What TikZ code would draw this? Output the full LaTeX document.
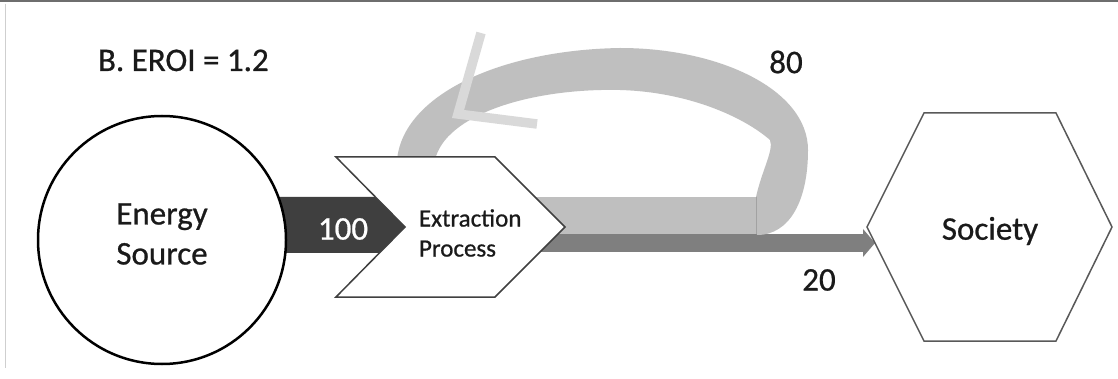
\documentclass[tikz,border=0pt]{standalone}
\usepackage{fontspec}
\setmainfont{Carlito}[FakeBold=0.7]
\definecolor{darkflow}{HTML}{3F3F3F}
\definecolor{bandlight}{HTML}{BFBFBF}
\definecolor{bandmid}{HTML}{7F7F7F}
\definecolor{tipgray}{HTML}{D9D9D9}
\definecolor{txt}{HTML}{1A1A1A}
\definecolor{chevline}{HTML}{404040}
\definecolor{hexline}{HTML}{595959}
\definecolor{framedark}{HTML}{6E6E6E}
\definecolor{framelight}{HTML}{CFCFCF}
\begin{document}
\begin{tikzpicture}[x=1pt,y=-1pt,
  every node/.style={inner sep=0pt, outer sep=0pt, text=txt},
  big/.style={font=\fontsize{33}{40}\selectfont},
  mid/.style={font=\fontsize{25}{30}\selectfont},
  shapeline/.style={line width=1.5pt, line join=miter}]
\useasboundingbox (0,0) rectangle (1118,379);
\fill[white] (0,0) rectangle (1118,379);
% frame
\draw[line width=2pt, draw=framedark] (0,1) -- (1118,1);
\draw[line width=1pt, draw=framelight] (5,4) -- (5,368);

% named points
\coordinate (notch) at (405,227);
\coordinate (tip20) at (875,243);

% dark input flow (100)
\fill[darkflow] (200,197) -- (376,197) -- (notch) -- (379,253) -- (200,253) -- cycle;

% output flow to society (20)
\fill[bandmid] (520,234) rectangle (863,252);
\fill[bandmid] (863,229) -- (tip20) -- (863,257) -- cycle;

% feedback flow (80)
\fill[bandlight] (520,197) rectangle (757,234);
\fill[bandlight] (397,160) .. controls (403,95) and (500,50) .. (620,48)
  .. controls (720,48) and (808,90) .. (808,150)
  .. controls (808,200) and (790,235) .. (757,235)
  -- (756,197)
  .. controls (762,170) and (774,150) .. (770,140)
  .. controls (745,118) and (690,92) .. (620,90)
  .. controls (530,88) and (445,115) .. (435,160) -- cycle;
\draw[line width=0.6pt, draw=bandlight!85!black] (756.5,197) -- (756.5,234);

% open arrow head of the feedback flow
\draw[line width=9.5pt, draw=tipgray, line join=miter] (481,33) -- (458,114) -- (537,124);

% extraction chevron
\draw[shapeline, draw=chevline, fill=white] (336,157) -- (495,157) -- (565,227) -- (495,297) -- (336,297) -- (notch) -- cycle;

% energy source circle
\node[circle, draw=black, line width=2.5pt, fill=white, minimum size=248pt] (src) at (162,240) {};

% society hexagon
\draw[shapeline, draw=hexline, fill=white] (867,227) -- (924,113) -- (1056,113) -- (1112,227) -- (1056,341) -- (924,341) -- cycle;

% texts
\node[big, anchor=base west] (title) at (98,71) {B. EROI = 1.2};
\node[big, align=center] (srctxt) at (162,234) {Energy\\Source};
\node[big, text=white] (hundred) at (343,229) {100};
\node[mid, align=left, anchor=west] (extxt) at (419,233) {Extraction\\Process};
\node[big] (eighty) at (786,62) {80};
\node[big] (twenty) at (819,280) {20};
\node[big] (soc) at (990,231) {Society};
\end{tikzpicture}
\end{document}
